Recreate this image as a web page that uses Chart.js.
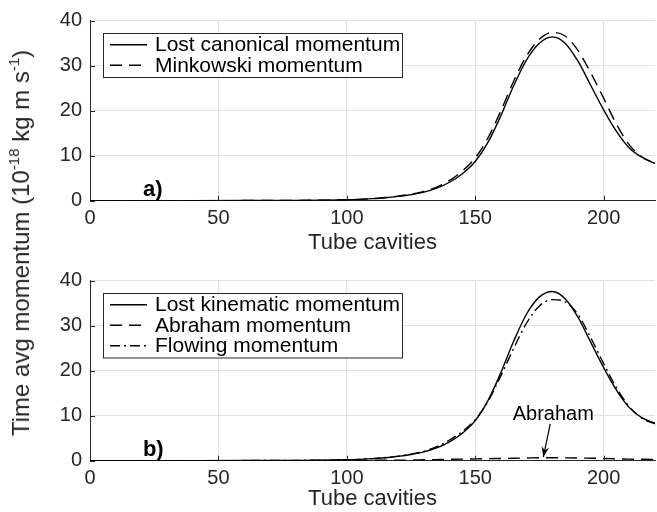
<!DOCTYPE html>
<html lang="en">
<head>
<meta charset="UTF-8">
<title>Time avg momentum</title>
<script src="https://cdn.jsdelivr.net/npm/chart.js"></script>
<style>
    body { margin: 0; background: #fff; font-family: "Liberation Sans", Arial, sans-serif; }
    #wrap { position: relative; width: 657px; height: 512px; }
    .panel { position: absolute; left: 0; width: 657px; height: 256px; }
    #ylabel {
        position: absolute; left: 21px; top: 243px;
        transform: translate(-50%, -50%) rotate(-90deg);
        white-space: nowrap; font-size: 24px; color: #262626;
    }
    #ylabel sup { font-size: 15px; vertical-align: 10px; line-height: 0; }
</style>
</head>
<body>
<div id="wrap">
    <div class="panel" style="top:0"><canvas id="chartA" width="657" height="256"></canvas></div>
    <div class="panel" style="top:256px"><canvas id="chartB" width="657" height="256"></canvas></div>
    <div id="ylabel">Time avg momentum (10<sup>-18</sup> kg m s<sup>-1</sup>)</div>
</div>
<script>
// datos
const cavities = [0, 20, 40, 60, 80, 90, 100, 105, 110, 115, 120, 125, 130, 135, 140, 145,
    150, 155, 160, 165, 170, 175, 180, 185, 190, 195, 200, 205, 210, 215, 220];

const canonical = [0, 0, 0.01, 0.03, 0.07, 0.12, 0.2, 0.3, 0.45, 0.65, 0.95, 1.35, 1.9, 2.8, 4.1, 6.0,
    8.7, 13.0, 18.9, 25.6, 31.3, 35.0, 36.4, 35.0, 31.0, 25.6, 20.2, 15.4, 11.7, 9.6, 8.3];
const minkowski = [0, 0, 0.01, 0.03, 0.07, 0.12, 0.2, 0.3, 0.47, 0.7, 1.02, 1.45, 2.05, 3.0, 4.5, 6.6,
    9.5, 14.0, 20.0, 26.6, 32.2, 35.9, 37.4, 36.6, 33.4, 28.4, 22.8, 17.0, 12.4, 9.7, 8.3];

const kinematic = [0, 0, 0.01, 0.03, 0.07, 0.12, 0.2, 0.3, 0.45, 0.66, 0.96, 1.38, 1.95, 2.85, 4.2, 6.1,
    8.9, 13.4, 19.6, 26.6, 32.6, 36.4, 37.6, 36.0, 31.9, 26.3, 20.7, 15.7, 11.8, 9.5, 8.3];
const abraham = [0, 0, 0, 0.01, 0.02, 0.03, 0.05, 0.06, 0.08, 0.1, 0.12, 0.15, 0.2, 0.25, 0.3, 0.35,
    0.4, 0.45, 0.5, 0.55, 0.6, 0.65, 0.65, 0.63, 0.6, 0.55, 0.5, 0.42, 0.35, 0.32, 0.3];
const flowing = [0, 0, 0.01, 0.03, 0.07, 0.12, 0.2, 0.3, 0.47, 0.7, 1.02, 1.45, 2.1, 3.1, 4.6, 6.5,
    9.1, 13.2, 18.9, 25.0, 30.6, 34.4, 35.8, 35.3, 32.5, 27.3, 21.6, 16.2, 12.0, 9.4, 8.2];

const xTicks = [0, 50, 100, 150, 200];
const yTicks = [0, 10, 20, 30, 40];

const INK = '#262626';
const FONT = '"Liberation Sans", Arial, sans-serif';

function pts(values) {
    return cavities.map((c, i) => ({ x: c, y: values[i] }));
}

function line(label, values, dash) {
    return {
        label: label,
        data: pts(values),
        borderColor: '#000',
        borderWidth: 1.4,
        borderDash: dash,
        pointRadius: 0,
        fill: false,
        cubicInterpolationMode: 'monotone'
    };
}

// leyenda, marcas de eje y anotaciones
const extras = {
    id: 'extras',
    afterDraw(chart, args, opts) {
        const ctx = chart.ctx;
        const area = chart.chartArea;
        const xs = chart.scales.x, ys = chart.scales.y;

        // marcas hacia dentro
        ctx.save();
        ctx.strokeStyle = INK;
        ctx.lineWidth = 1;
        xTicks.forEach(v => {
            const px = Math.round(xs.getPixelForValue(v)) + 0.5;
            ctx.beginPath(); ctx.moveTo(px, area.bottom); ctx.lineTo(px, area.bottom - 5); ctx.stroke();
        });
        yTicks.forEach(v => {
            const py = Math.round(ys.getPixelForValue(v)) + 0.5;
            ctx.beginPath(); ctx.moveTo(area.left, py); ctx.lineTo(area.left + 5, py); ctx.stroke();
        });
        ctx.restore();

        // leyenda
        const sets = chart.data.datasets;
        const bx = area.left + 13, by = area.top + 12.5;
        const bw = 299, rowH = 20.5, bh = sets.length * rowH + 3;
        ctx.save();
        ctx.fillStyle = '#fff';
        ctx.fillRect(bx, by, bw, bh);
        ctx.strokeStyle = INK;
        ctx.lineWidth = 1;
        ctx.strokeRect(Math.round(bx) + 0.5, Math.round(by) + 0.5, bw, bh);
        ctx.font = '21px ' + FONT;
        ctx.textBaseline = 'middle';
        ctx.fillStyle = '#000';
        sets.forEach((ds, i) => {
            const cy = by + 11.5 + i * rowH;
            ctx.beginPath();
            ctx.setLineDash(ds.borderDash || []);
            ctx.lineWidth = 1.4;
            ctx.strokeStyle = '#000';
            ctx.moveTo(bx + 7, cy); ctx.lineTo(bx + 44, cy); ctx.stroke();
            ctx.setLineDash([]);
            ctx.fillText(ds.label, bx + 52, cy + 1);
        });
        ctx.restore();

        // etiqueta del panel
        ctx.save();
        ctx.font = 'bold 22px ' + FONT;
        ctx.fillStyle = '#000';
        ctx.textBaseline = 'alphabetic';
        ctx.fillText(opts.tag, xs.getPixelForValue(20.6), ys.getPixelForValue(1.1));
        ctx.restore();

        // flecha "Abraham"
        if (opts.arrow) {
            const a = opts.arrow;
            ctx.save();
            ctx.font = '20px ' + FONT;
            ctx.fillStyle = '#000';
            ctx.textAlign = 'center';
            ctx.fillText(a.text, xs.getPixelForValue(a.tx), ys.getPixelForValue(a.ty));
            const x0 = xs.getPixelForValue(a.x0), y0 = ys.getPixelForValue(a.y0);
            const x1 = xs.getPixelForValue(a.x1), y1 = ys.getPixelForValue(a.y1);
            ctx.strokeStyle = '#000';
            ctx.lineWidth = 1.2;
            ctx.beginPath(); ctx.moveTo(x0, y0); ctx.lineTo(x1, y1); ctx.stroke();
            const ang = Math.atan2(y1 - y0, x1 - x0);
            ctx.beginPath();
            ctx.moveTo(x1, y1);
            ctx.lineTo(x1 - 11 * Math.cos(ang - 0.35), y1 - 11 * Math.sin(ang - 0.35));
            ctx.lineTo(x1 - 7 * Math.cos(ang), y1 - 7 * Math.sin(ang));
            ctx.lineTo(x1 - 11 * Math.cos(ang + 0.35), y1 - 11 * Math.sin(ang + 0.35));
            ctx.closePath();
            ctx.fill();
            ctx.restore();
        }
    }
};

function makePanel(id, datasets, top, xHeight, extraOpts) {
    return new Chart(document.getElementById(id).getContext('2d'), {
        type: 'line',
        data: { datasets: datasets },
        plugins: [extras],
        options: {
            responsive: false,
            animation: false,
            layout: { padding: { top: top, right: 2, left: 0, bottom: 0 } },
            plugins: {
                legend: { display: false },
                tooltip: { enabled: false },
                extras: extraOpts
            },
            scales: {
                x: {
                    type: 'linear',
                    min: 0, max: 220,
                    afterBuildTicks: s => { s.ticks = xTicks.map(v => ({ value: v })); },
                    afterFit: s => { s.height = xHeight; },
                    grid: { color: '#e3e3e3', drawTicks: false },
                    border: { color: INK, width: 1 },
                    ticks: { color: INK, font: { size: 20, family: FONT }, padding: 6, maxRotation: 0, autoSkip: false },
                    title: { display: true, text: 'Tube cavities', color: INK, font: { size: 22, family: FONT }, padding: 0 }
                },
                y: {
                    min: 0, max: 40,
                    afterBuildTicks: s => { s.ticks = yTicks.map(v => ({ value: v })); },
                    afterFit: s => { s.width = 90; },
                    grid: { color: '#e3e3e3', drawTicks: false },
                    border: { color: INK, width: 1 },
                    ticks: { color: INK, font: { size: 20, family: FONT }, padding: 8 }
                }
            }
        }
    });
}

makePanel('chartA', [
    line('Lost canonical momentum', canonical, []),
    line('Minkowski momentum', minkowski, [12, 7])
], 20.7, 55.3, { tag: 'a)' });

makePanel('chartB', [
    line('Lost kinematic momentum', kinematic, []),
    line('Abraham momentum', abraham, [12, 7]),
    line('Flowing momentum', flowing, [10, 4, 2, 4])
], 24.7, 51.3, {
    tag: 'b)',
    arrow: { text: 'Abraham', tx: 180.4, ty: 9.0, x0: 179.2, y0: 8.2, x1: 176.5, y1: 0.8 }
});
</script>
</body>
</html>
